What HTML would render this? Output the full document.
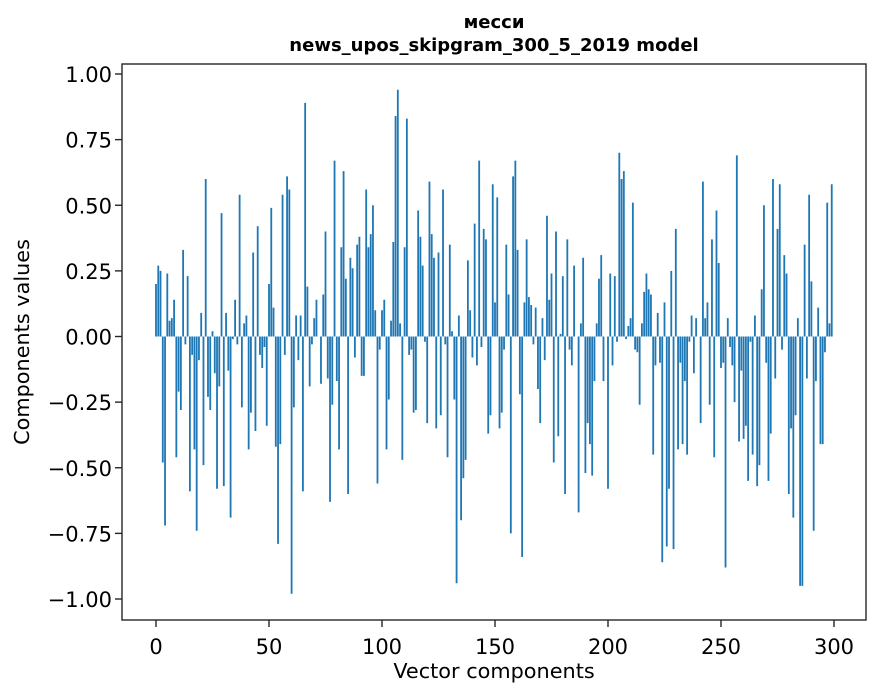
<!DOCTYPE html>
<html><head><meta charset="utf-8"><style>
body{margin:0;background:#fff}
svg{display:block;font-family:"DejaVu Sans","Liberation Sans",sans-serif}
</style></head><body>
<svg id="chart" width="880" height="696">
<rect x="0" y="0" width="880" height="696" fill="#fff"/>
<text x="494" y="28" text-anchor="middle" font-size="18" font-weight="bold">месси</text>
<text x="494" y="51" text-anchor="middle" font-size="18" font-weight="bold">news_upos_skipgram_300_5_2019 model</text>
<g id="bars"></g>
<g id="axes"></g>
<text x="494" y="678" text-anchor="middle" font-size="20.8">Vector components</text>
<text transform="translate(29,342) rotate(-90)" text-anchor="middle" font-size="20.8">Components values</text>
</svg>
<script>
const values=[0.20,0.27,0.25,-0.48,-0.72,0.24,0.06,0.07,0.14,-0.46,
-0.21,-0.28,0.33,-0.03,0.23,-0.59,-0.07,-0.43,-0.74,-0.09,
0.09,-0.49,0.60,-0.23,-0.28,0.02,-0.14,-0.58,-0.19,0.47,
-0.57,0.09,-0.13,-0.69,-0.01,0.14,-0.03,0.54,-0.27,0.05,
0.08,-0.43,-0.29,0.32,-0.36,0.42,-0.07,-0.12,-0.04,-0.34,
0.20,0.49,0.11,-0.42,-0.79,-0.41,0.54,-0.07,0.61,0.56,
-0.98,-0.27,0.08,-0.09,0.08,-0.59,0.89,0.19,-0.19,-0.03,
0.07,0.14,0.00,-0.18,0.16,0.40,-0.16,-0.63,-0.26,0.67,
-0.17,-0.43,0.34,0.63,0.22,-0.60,0.30,0.26,-0.08,0.35,
0.38,-0.15,-0.15,0.56,0.34,0.39,0.50,0.10,-0.56,-0.05,
0.10,0.14,-0.43,-0.24,0.06,0.36,0.84,0.94,0.05,-0.47,
0.34,0.83,-0.07,-0.05,-0.29,-0.28,0.48,0.38,0.27,-0.02,
-0.33,0.59,0.39,0.30,-0.35,0.32,-0.30,0.56,-0.03,-0.46,
0.35,0.02,-0.24,-0.94,0.08,-0.70,-0.54,-0.47,0.29,0.10,
-0.08,0.43,-0.11,0.67,-0.04,0.41,0.37,-0.37,-0.30,0.58,
0.13,0.53,-0.35,-0.29,-0.05,0.35,0.16,-0.75,0.61,0.67,
0.33,-0.22,-0.84,0.13,0.37,0.15,0.12,-0.03,0.11,-0.20,
-0.33,0.07,-0.09,0.46,0.14,0.24,-0.48,0.40,-0.38,0.01,
0.23,-0.60,0.37,-0.05,-0.11,0.27,0.00,-0.67,0.05,0.30,
-0.52,-0.33,-0.41,-0.53,-0.17,0.05,0.22,0.31,-0.17,0.00,
-0.58,0.24,-0.11,0.23,-0.02,0.70,0.60,0.63,-0.01,0.04,
0.07,0.51,-0.05,-0.06,-0.26,0.05,0.17,0.24,0.18,0.16,
-0.45,-0.11,0.09,-0.10,-0.86,0.13,-0.80,-0.58,0.25,-0.81,
0.41,-0.43,-0.10,-0.41,-0.17,-0.45,-0.02,0.08,-0.14,0.07,
0.00,-0.33,0.59,0.07,0.13,-0.26,0.37,-0.46,0.48,0.28,
-0.12,-0.10,-0.88,0.07,-0.04,-0.11,-0.25,0.69,-0.40,-0.13,
-0.39,-0.34,-0.55,-0.02,-0.45,0.08,-0.57,-0.49,0.18,0.50,
-0.10,-0.55,-0.37,0.60,-0.16,0.41,0.58,-0.05,0.31,0.24,
-0.60,-0.35,-0.69,-0.30,0.07,-0.95,-0.95,0.35,-0.16,0.54,
0.21,-0.74,-0.17,0.11,-0.41,-0.41,-0.06,0.51,0.05,0.58];
const xTicks=[0,50,100,150,200,250,300];
const yTicks=[-1.00,-0.75,-0.50,-0.25,0.00,0.25,0.50,0.75,1.00];
const ns="http://www.w3.org/2000/svg";
const L=122,R=866,T=64,B=620;
function xs(v){return 156+v*(834-156)/300;}
function ys(v){return 336.5-v*262.5;}
const bars=document.getElementById('bars');
values.forEach((v,i)=>{
  const r=document.createElementNS(ns,'rect');
  const w=0.8*(xs(1)-xs(0));
  r.setAttribute('x',xs(i)-w/2);
  r.setAttribute('y',Math.min(ys(v),ys(0)));
  r.setAttribute('width',w);
  r.setAttribute('height',Math.abs(ys(v)-ys(0)));
  r.setAttribute('fill','#1f77b4');
  
  
  bars.appendChild(r);
});
const ax=document.getElementById('axes');
const frame=document.createElementNS(ns,'rect');
frame.setAttribute('x',L);frame.setAttribute('y',T);frame.setAttribute('width',R-L);frame.setAttribute('height',B-T);
frame.setAttribute('fill','none');frame.setAttribute('stroke','#262626');frame.setAttribute('stroke-width','1.4');


ax.appendChild(frame);
xTicks.forEach(t=>{
  const l=document.createElementNS(ns,'line');
  l.setAttribute('x1',xs(t));l.setAttribute('x2',xs(t));l.setAttribute('y1',B);l.setAttribute('y2',B+7);l.setAttribute('stroke','#262626');l.setAttribute('stroke-width','1.4');
  
  
  ax.appendChild(l);
  const tx=document.createElementNS(ns,'text');
  tx.setAttribute('x',xs(t));tx.setAttribute('y',654);tx.setAttribute('text-anchor','middle');tx.setAttribute('font-size','21');
  tx.textContent=String(t);
  
  
  ax.appendChild(tx);
});
yTicks.forEach(t=>{
  const l=document.createElementNS(ns,'line');
  l.setAttribute('x1',L-7);l.setAttribute('x2',L);l.setAttribute('y1',ys(t));l.setAttribute('y2',ys(t));l.setAttribute('stroke','#262626');l.setAttribute('stroke-width','1.4');
  
  
  ax.appendChild(l);
  const tx=document.createElementNS(ns,'text');
  tx.setAttribute('x',L-10);tx.setAttribute('y',ys(t)+8);tx.setAttribute('text-anchor','end');tx.setAttribute('font-size','21');
  tx.textContent=(t<0?'\u2212':'')+Math.abs(t).toFixed(2);
  
  
  ax.appendChild(tx);
});
</script>
</body></html>
